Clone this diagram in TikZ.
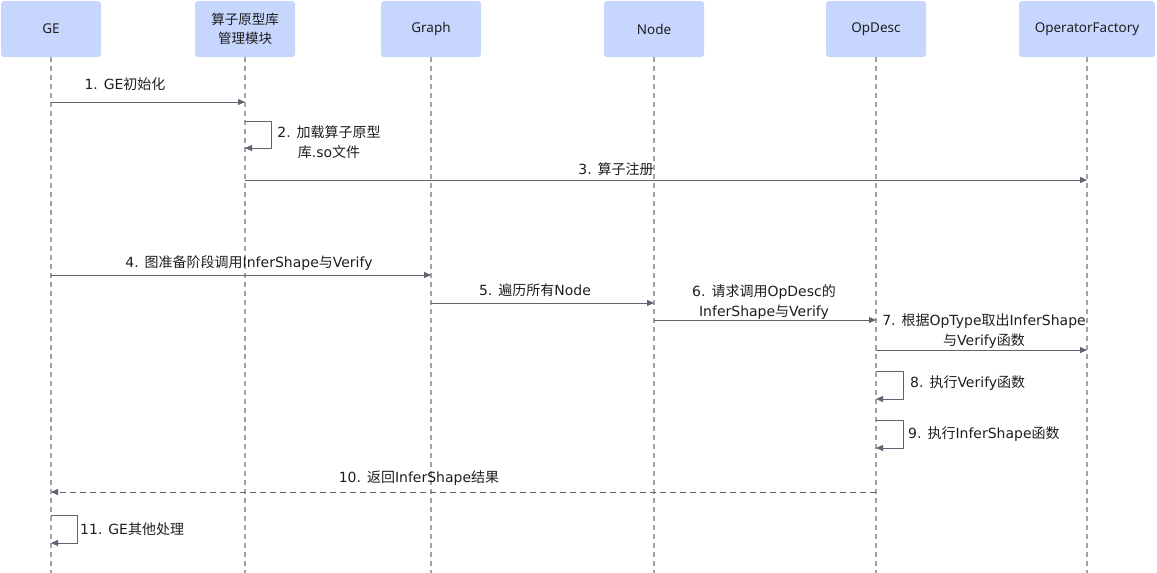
\documentclass[tikz,border=0pt]{standalone}
\usepackage{fontspec}
\setmainfont{DejaVu Sans}
\newfontfamily\cjkfont{Noto Sans CJK SC}
\newfontfamily\headfont{Noto Sans}
\newcommand{\zh}[1]{{\cjkfont #1}}
\usepackage{tikz}
\usetikzlibrary{arrows.meta, positioning}
\definecolor{boxblue}{HTML}{C6D6FC}
\definecolor{msggray}{HTML}{5F6470}
\definecolor{linegray}{HTML}{A2A2A2}
\definecolor{txtdark}{HTML}{1E1E1E}

\begin{document}
\begin{tikzpicture}[x=1pt, y=-1pt,
  every node/.style={align=center, text=txtdark, font=\fontsize{14}{19.5}\selectfont},
  head/.style={fill=boxblue, rounded corners=3pt, minimum width=100pt, minimum height=56pt, inner sep=0pt, font=\headfont\fontsize{13.5}{19}\selectfont},
  lbl/.style={inner sep=0pt},
  lifeline/.style={linegray, dash pattern=on 5pt off 4pt, line width=1.1pt},
  msg/.style={msggray, line width=0.9pt, -{Triangle[length=7pt,width=6pt]}},
  reply/.style={msg, dash pattern=on 6pt off 4pt}]
\useasboundingbox (0,0) rectangle (1157,573);
% participants
\node (GE) [head] at (51,29) {GE};
\node (OpLib) [head] at (245,29) {\zh{算子原型库}\\\zh{管理模块}};
\node (Graph) [head] at (431,29) {Graph};
\node (Node) [head] at (654,29) {Node};
\node (OpDesc) [head] at (876,29) {OpDesc};
\node (Factory) [head, minimum width=136pt] at (1087,29) {OperatorFactory};
\foreach \p in {GE,OpLib,Graph,Node,OpDesc,Factory}
  \draw[lifeline] (\p.south) -- (\p |- 0,573);
% message rows
\coordinate (m1) at (0,102);
\coordinate (m2) at (0,121);
\coordinate (m3) at (0,180);
\coordinate (m4) at (0,275);
\coordinate (m5) at (0,303);
\coordinate (m6) at (0,320);
\coordinate (m7) at (0,350);
\coordinate (m8) at (0,371);
\coordinate (m9) at (0,420);
\coordinate (m10) at (0,492);
\coordinate (m11) at (0,515);
\draw[msg] (GE |- m1) -- (OpLib |- m1);
\draw[msg] (OpLib |- m2) -- ++(26,0) -- ++(0,27) -- ++(-26,0);
\draw[msg] (OpLib |- m3) -- (Factory |- m3);
\draw[msg] (GE |- m4) -- (Graph |- m4);
\draw[msg] (Graph |- m5) -- (Node |- m5);
\draw[msg] (Node |- m6) -- (OpDesc |- m6);
\draw[msg] (OpDesc |- m7) -- (Factory |- m7);
\draw[msg] (OpDesc |- m8) -- ++(27,0) -- ++(0,28) -- ++(-27,0);
\draw[msg] (OpDesc |- m9) -- ++(27,0) -- ++(0,28) -- ++(-27,0);
\draw[reply] (OpDesc |- m10) -- (GE |- m10);
\draw[msg] (GE |- m11) -- ++(26,0) -- ++(0,28) -- ++(-26,0);
% labels
\node (l1) [lbl] at (125,84) {1. GE\zh{初始化}};
\node (l2) [lbl] at (329,142) {2. \zh{加载算子原型}\\\zh{库}.so\zh{文件}};
\node (l3) [lbl] at (616,169) {3. \zh{算子注册}};
\node (l4) [lbl] at (249,263) {4. \zh{图准备阶段调用}InferShape\zh{与}Verify};
\node (l5) [lbl] at (535,290) {5. \zh{遍历所有}Node};
\node (l6) [lbl] at (764,302) {6. \zh{请求调用}OpDesc\zh{的}\\InferShape\zh{与}Verify};
\node (l7) [lbl] at (984,331) {7. \zh{根据}OpType\zh{取出}InferShape\\\zh{与}Verify\zh{函数}};
\node (l8) [lbl, anchor=west] at (910,383) {8. \zh{执行}Verify\zh{函数}};
\node (l9) [lbl, anchor=west] at (908,434) {9. \zh{执行}InferShape\zh{函数}};
\node (l10) [lbl] at (419,478) {10. \zh{返回}InferShape\zh{结果}};
\node (l11) [lbl, anchor=west] at (80,529) {11. GE\zh{其他处理}};
\end{tikzpicture}
\end{document}
